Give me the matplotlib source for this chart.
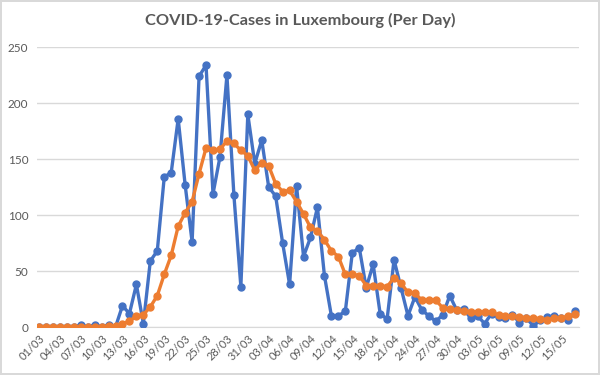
import numpy as np
import matplotlib.pyplot as plt
import pandas as pd

# Daily new cases (blue) and smoothed curve (orange), 01/03 - 17/05
dates = pd.date_range('2020-03-01', '2020-05-17', freq='D')
daily = [0, 0, 0, 0, 0, 0, 2, 0, 2, 0, 2, 0,
         19, 12, 38, 3, 59, 68, 134, 138, 186, 127, 76, 224, 234, 119, 152, 225, 118, 36, 190,
         146, 167, 125, 117, 75, 38, 126, 63, 80, 107, 46, 10, 10, 14, 66, 71, 35, 56, 12, 7,
         60, 35, 10, 27, 15, 10, 5, 11, 28, 15,
         16, 8, 10, 3, 12, 9, 8, 11, 4, 8, 1, 6, 9, 10, 8, 6, 14]
smooth = [0, 0, 0, 0, 0, 0, 0, 0, 0, 0, 1, 1,
          3, 5, 10, 11, 18, 28, 47, 64, 90, 102, 112, 137, 160, 158, 159, 166, 164, 158, 153,
          140, 147, 144, 128, 121, 122, 112, 101, 89, 86, 78, 68, 63, 47, 47, 46, 37, 37, 37, 36,
          44, 39, 31, 30, 24, 24, 24, 17, 16, 15,
          14, 13, 13, 13, 13, 10.5, 9.6, 9.6, 9, 8, 8, 7.5, 6.6, 8, 8, 9.6, 11.3]
labels = [d.strftime('%d/%m') for d in dates]

txt = '#595959'
plt.rcParams['font.family'] = ['Lato', 'DejaVu Sans']

fig = plt.figure(figsize=(6, 3.75), dpi=100, edgecolor='#d9d9d9', linewidth=1.5)
ax = fig.add_axes([0.061, 0.128, 0.9045, 0.746])

x = np.arange(len(dates))
ax.plot(x, daily, color='#4472C4', lw=2.4, marker='o', ms=5, zorder=3)
ax.plot(x, smooth, color='#ED7D31', lw=2.4, marker='o', ms=5, zorder=4)

ax.set_ylim(0, 250)
ax.set_yticks(range(0, 251, 50))
ax.set_xlim(-0.33, len(dates) - 0.4)
ax.set_xticks(x[::3])
ax.set_xticklabels(labels[::3], rotation=45, ha='right', rotation_mode='anchor')
ax.tick_params(axis='x', colors=txt, labelsize=8, length=0, pad=4)
ax.tick_params(axis='y', colors=txt, labelsize=8.5, length=0, pad=6)

ax.grid(axis='y', color='#d9d9d9', lw=1)
ax.set_axisbelow(True)
for s in ['top', 'right', 'left']:
    ax.spines[s].set_visible(False)
ax.spines['bottom'].set_color('#d9d9d9')

fig.text(0.5, 0.945, 'COVID-19-Cases in Luxembourg (Per Day)', ha='center', va='center',
         fontsize=11.8, fontweight='bold', color=txt)

fig.savefig('out.png', dpi=100, edgecolor=fig.get_edgecolor())
